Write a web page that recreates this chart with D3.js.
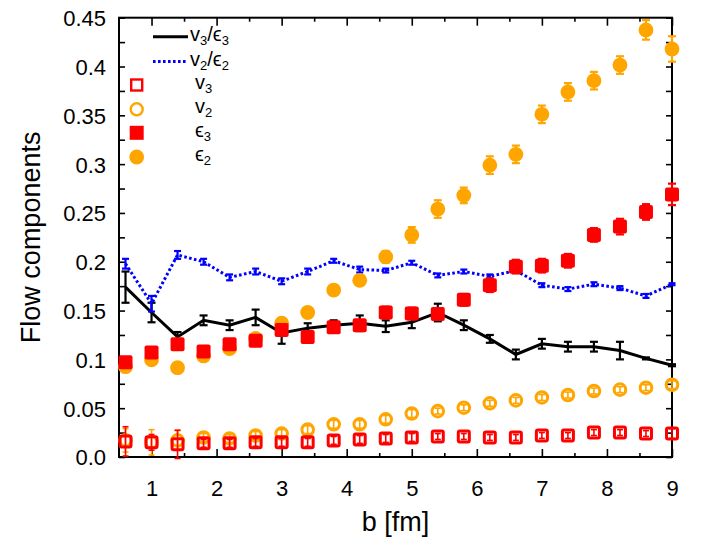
<!DOCTYPE html>
<html><head><meta charset="utf-8">
<script src="https://cdn.jsdelivr.net/npm/d3@7"></script>
<style>body{margin:0;background:#fff;} text{font-family:"Liberation Sans",Arial,Helvetica,sans-serif;fill:#000;}</style>
</head><body><svg id="c" width="712" height="554"></svg>
<script>
// impact parameter b [fm]
const bValues = [0.6,1.0,1.4,1.8,2.2,2.6,3.0,3.4,3.8,4.2,4.6,5.0,5.4,5.8,6.2,6.6,7.0,7.4,7.8,8.2,8.6,9.0];
// v3/eps3 (black solid)
const ratio3 = [0.174,0.148,0.123,0.140,0.135,0.143,0.127,0.132,0.135,0.137,0.134,0.138,0.148,0.135,0.121,0.105,0.116,0.113,0.113,0.109,0.101,0.094];
const ratio3Err = [0.016,0.010,0.005,0.005,0.005,0.008,0.011,0.005,0.005,0.008,0.006,0.006,0.009,0.005,0.004,0.005,0.005,0.005,0.005,0.009,0.001,0.001];
// v2/eps2 (blue dotted)
const ratio2 = [0.198,0.157,0.207,0.200,0.184,0.190,0.180,0.190,0.201,0.192,0.191,0.199,0.186,0.190,0.185,0.191,0.176,0.172,0.177,0.173,0.165,0.177];
const ratio2Err = [0.005,0.008,0.004,0.003,0.003,0.003,0.003,0.003,0.002,0.003,0.002,0.002,0.002,0.002,0.002,0.002,0.002,0.002,0.002,0.002,0.002,0.001];
// v3 (red open squares)
const v3 = [0.016,0.015,0.013,0.014,0.014,0.015,0.015,0.015,0.017,0.018,0.019,0.020,0.021,0.021,0.020,0.020,0.022,0.022,0.025,0.025,0.024,0.024];
const v3Err = [0.015,0.008,0.0145,0.004,0.004,0.004,0.004,0.004,0.004,0.004,0.004,0.004,0.003,0.003,0.003,0.003,0.003,0.003,0.003,0.003,0.003,0.005];
// v2 (orange open circles)
const v2 = [0.017,0.015,0.017,0.020,0.019,0.022,0.024,0.028,0.0335,0.0335,0.0386,0.0445,0.047,0.0505,0.055,0.058,0.061,0.0635,0.0676,0.069,0.071,0.074];
const v2Err = [0.012,0.013,0.010,0.004,0.004,0.004,0.004,0.004,0.004,0.004,0.004,0.004,0.003,0.003,0.003,0.003,0.003,0.003,0.003,0.003,0.003,0.004];
// eps3 (red filled squares)
const eps3 = [0.097,0.107,0.1155,0.108,0.1155,0.119,0.130,0.123,0.133,0.135,0.148,0.147,0.1465,0.161,0.176,0.195,0.196,0.201,0.2275,0.236,0.251,0.269];
const eps3Err = [0.005,0.005,0.005,0.005,0.005,0.005,0.005,0.005,0.005,0.005,0.006,0.006,0.006,0.006,0.007,0.007,0.007,0.007,0.007,0.008,0.008,0.011];
// eps2 (orange filled circles)
const eps2 = [0.0925,0.0995,0.0915,0.1035,0.111,0.1215,0.137,0.148,0.171,0.181,0.205,0.2275,0.254,0.268,0.299,0.310,0.351,0.374,0.3855,0.4015,0.4375,0.418];
const eps2Err = [0.004,0.004,0.004,0.004,0.004,0.004,0.005,0.005,0.005,0.005,0.006,0.008,0.009,0.008,0.009,0.009,0.009,0.009,0.009,0.009,0.010,0.013];
// axis ticks
const xTickValues = [1,2,3,4,5,6,7,8,9];
const xTickLabels = ["1","2","3","4","5","6","7","8","9"];
const yTickValues = [0,0.05,0.1,0.15,0.2,0.25,0.3,0.35,0.4,0.45];
const yTickLabels = ["0.0","0.05","0.1","0.15","0.2","0.25","0.3","0.35","0.4","0.45"];

const RED="#ff0000", ORANGE="#ffa500", BLUE="#0000ff", BLACK="#000000";
const L=119, R=672, T=17.7, B=457;
const svg = d3.select("#c");
const x = d3.scaleLinear().domain([0.5,9]).range([L,R]);
const y = d3.scaleLinear().domain([0,0.45]).range([B,T]);

const xMinor = d3.range(1,18).map(i=>0.5+i*0.5).filter(v=>v<9 && !xTickValues.includes(v));
const yMinor = d3.range(0,19).map(i=>i*0.025).filter(v=>!yTickValues.some(t=>Math.abs(t-v)<1e-9));

function axes(){
  const g = svg.append("g");
  const ax = (gen, tr) => { const a = g.append("g").attr("transform",tr).call(gen);
    a.selectAll("path.domain").remove(); a.selectAll("line").attr("stroke","#000").attr("stroke-width",1.6); return a; };
  ax(d3.axisBottom(x).tickValues(xTickValues).tickSize(-8).tickPadding(22).tickFormat((d,i)=>xTickLabels[i]), `translate(0,${B})`)
    .selectAll("text").attr("font-size",22).attr("dy","0.71em").attr("y",23);
  ax(d3.axisBottom(x).tickValues(xMinor).tickSize(-4).tickFormat(""), `translate(0,${B})`);
  ax(d3.axisTop(x).tickValues(xTickValues).tickSize(-8).tickFormat(""), `translate(0,${T})`);
  ax(d3.axisTop(x).tickValues(xMinor).tickSize(-4).tickFormat(""), `translate(0,${T})`);
  ax(d3.axisLeft(y).tickValues(yTickValues).tickSize(-6).tickPadding(13).tickFormat((d,i)=>yTickLabels[i]), `translate(${L},0)`)
    .selectAll("text").attr("font-size",22).attr("dy","0.36em");
  ax(d3.axisLeft(y).tickValues(yMinor).tickSize(-6).tickFormat(""), `translate(${L},0)`);
  ax(d3.axisRight(y).tickValues(yTickValues.concat(yMinor)).tickSize(-6).tickFormat(""), `translate(${R},0)`);
  g.append("rect").attr("x",L).attr("y",T).attr("width",R-L).attr("height",B-T)
    .attr("fill","none").attr("stroke","#000").attr("stroke-width",2);
  svg.selectAll(".tick text").attr("fill","#000");
}

function errorBars(vals, errs, color, cap, width){
  const g = svg.append("g").attr("stroke",color).attr("stroke-width",width).attr("fill","none");
  bValues.forEach((b,i)=>{
    const cx=x(b), y0=y(vals[i]-errs[i]), y1=y(vals[i]+errs[i]);
    g.append("line").attr("x1",cx).attr("x2",cx).attr("y1",y0).attr("y2",y1);
    g.append("line").attr("x1",cx-cap/2).attr("x2",cx+cap/2).attr("y1",y0).attr("y2",y0);
    g.append("line").attr("x1",cx-cap/2).attr("x2",cx+cap/2).attr("y1",y1).attr("y2",y1);
  });
}
function line(vals, color, dash){
  svg.append("path").datum(vals)
    .attr("d", d3.line().x((d,i)=>x(bValues[i])).y(d=>y(d)))
    .attr("fill","none").attr("stroke",color).attr("stroke-width",3)
    .attr("stroke-dasharray",dash||null);
}
const SZ=14;
function squares(vals, color, filled){
  const g = svg.append("g");
  vals.forEach((v,i)=>{
    const cx=x(bValues[i]), cy=y(v);
    if(filled) g.append("rect").attr("x",cx-SZ/2).attr("y",cy-SZ/2).attr("width",SZ).attr("height",SZ).attr("rx",2).attr("fill",color);
    else g.append("rect").attr("x",cx-SZ/2+1.5).attr("y",cy-SZ/2+1.5).attr("width",SZ-3).attr("height",SZ-3).attr("rx",1.5).attr("fill","none").attr("stroke",color).attr("stroke-width",3);
  });
}
function circles(vals, color, filled){
  const g = svg.append("g");
  vals.forEach((v,i)=>{
    const cx=x(bValues[i]), cy=y(v);
    if(filled) g.append("circle").attr("cx",cx).attr("cy",cy).attr("r",7.4).attr("fill",color);
    else g.append("circle").attr("cx",cx).attr("cy",cy).attr("r",5.8).attr("fill","none").attr("stroke",color).attr("stroke-width",3);
  });
}

axes();
// lines
line(ratio3, BLACK);
errorBars(ratio3, ratio3Err, BLACK, 8, 2.2);
line(ratio2, BLUE, "2.6,2.4");
errorBars(ratio2, ratio2Err, BLUE, 7, 2.2);
// open markers
circles(v2, ORANGE, false);
errorBars(v2, v2Err, ORANGE, 6, 1.6);
squares(v3, RED, false);
errorBars(v3, v3Err, RED, 6, 1.6);
// filled markers
errorBars(eps2, eps2Err, ORANGE, 8, 2.2);
circles(eps2, ORANGE, true);
errorBars(eps3, eps3Err, RED, 8, 2.2);
squares(eps3, RED, true);

// axis titles
svg.append("text").attr("x",(L+R)/2).attr("y",531).attr("text-anchor","middle").attr("font-size",27).text("b [fm]");
svg.append("text").attr("transform",`translate(40,${(T+B)/2}) rotate(-90)`).attr("text-anchor","middle").attr("font-size",27).text("Flow components");

// legend
const legend = [
  {base:"v",sub:"3",base2:"ϵ",sub2:"3",type:"line",color:BLACK},
  {base:"v",sub:"2",base2:"ϵ",sub2:"2",type:"dot",color:BLUE},
  {base:"v",sub:"3",type:"osq",color:RED},
  {base:"v",sub:"2",type:"ocirc",color:ORANGE},
  {base:"ϵ",sub:"3",type:"fsq",color:RED},
  {base:"ϵ",sub:"2",type:"fcirc",color:ORANGE}
];
const legY = [36.7,61.5,85,109.3,132.8,157];
const lg = svg.append("g");
legend.forEach((d,i)=>{
  const yy = legY[i];
  if(d.type==="line"||d.type==="dot"){
    lg.append("line").attr("x1",153).attr("x2",188).attr("y1",yy).attr("y2",yy).attr("stroke",d.color).attr("stroke-width",3).attr("stroke-dasharray",d.type==="dot"?"2.6,2.4":null);
  } else if(d.type==="osq"){
    lg.append("rect").attr("x",136.7-SZ/2+1.5).attr("y",yy-SZ/2+1.5).attr("width",SZ-3).attr("height",SZ-3).attr("fill","none").attr("stroke",d.color).attr("stroke-width",2.4);
  } else if(d.type==="ocirc"){
    lg.append("circle").attr("cx",136.7).attr("cy",yy).attr("r",6).attr("fill","none").attr("stroke",d.color).attr("stroke-width",2.4);
  } else if(d.type==="fsq"){
    lg.append("rect").attr("x",136.7-SZ/2).attr("y",yy-SZ/2).attr("width",SZ).attr("height",SZ).attr("fill",d.color);
  } else {
    lg.append("circle").attr("cx",136.7).attr("cy",yy).attr("r",7.4).attr("fill",d.color);
  }
  const t = lg.append("text").attr("x", d.base2?190:195).attr("y",yy+4).attr("font-size",20);
  t.append("tspan").text(d.base);
  t.append("tspan").attr("font-size",13).attr("dy",4).text(d.sub);
  if(d.base2){
    t.append("tspan").attr("dy",-4).text("/"+d.base2);
    t.append("tspan").attr("font-size",13).attr("dy",4).text(d.sub2);
  }
});
</script></body></html>
